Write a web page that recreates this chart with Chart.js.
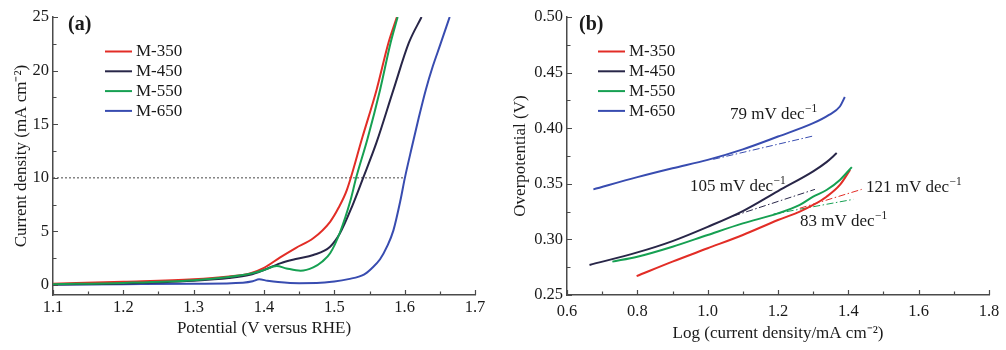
<!DOCTYPE html>
<html><head><meta charset="utf-8">
<script src="https://cdn.jsdelivr.net/npm/chart.js@4.4.0/dist/chart.umd.min.js"></script>
<style>
html,body{margin:0;padding:0;background:#fff;}
#wrap{position:relative;width:1006px;height:350px;overflow:hidden;background:#fff;}
canvas{position:absolute;top:0;}
#ca{left:0;}
#cb{left:503px;}
</style></head><body>
<div id="wrap"><canvas id="ca" width="503" height="350"></canvas><canvas id="cb" width="503" height="350"></canvas></div>
<script>
// ---------- data ----------
const seriesNames = ['M-350', 'M-450', 'M-550', 'M-650'];

// Panel (a): potential (V vs RHE) and current density (mA cm-2)
const potM350 = [1.10, 1.20, 1.30, 1.35, 1.38, 1.40, 1.423, 1.445, 1.470, 1.494, 1.506, 1.518, 1.540, 1.560, 1.577, 1.589];
const jM350   = [0.12, 0.30, 0.53, 0.80, 1.09, 1.60, 2.58, 3.45, 4.36, 5.90, 7.20, 8.90, 13.8, 18.2, 22.6, 25.0];
const potM450 = [1.10, 1.20, 1.30, 1.35, 1.38, 1.40, 1.423, 1.447, 1.470, 1.494, 1.508, 1.525, 1.541, 1.560, 1.584, 1.606, 1.624];
const jM450   = [0.05, 0.15, 0.40, 0.65, 0.95, 1.40, 2.02, 2.45, 2.80, 3.58, 4.83, 7.30, 10.0, 13.3, 18.2, 22.6, 25.0];
const potM550 = [1.10, 1.20, 1.30, 1.35, 1.38, 1.40, 1.418, 1.432, 1.452, 1.470, 1.483, 1.494, 1.508, 1.523, 1.531, 1.547, 1.565, 1.580, 1.590];
const jM550   = [0.08, 0.20, 0.45, 0.75, 1.05, 1.40, 1.77, 1.55, 1.34, 1.65, 2.20, 2.96, 4.90, 7.90, 10.0, 13.6, 18.2, 22.6, 25.0];
const potM650 = [1.10, 1.20, 1.30, 1.37, 1.384, 1.393, 1.405, 1.42, 1.45, 1.475, 1.50, 1.52, 1.542, 1.553, 1.565, 1.575, 1.584, 1.594, 1.600, 1.610, 1.620, 1.630, 1.640, 1.650, 1.664];
const jM650   = [0.05, 0.08, 0.12, 0.22, 0.35, 0.53, 0.40, 0.28, 0.17, 0.18, 0.32, 0.55, 0.98, 1.55, 2.40, 3.60, 5.10, 7.90, 9.90, 12.8, 15.6, 18.2, 20.4, 22.3, 25.0];
const refPot = [1.10, 1.60];
const refJ   = [10, 10];
const xTicksA = [1.1, 1.2, 1.3, 1.4, 1.5, 1.6, 1.7];
const yTicksA = [0, 5, 10, 15, 20, 25];

// Panel (b): log(current density) and overpotential (V)
const logM350 = [0.798, 0.90, 1.00, 1.10, 1.20, 1.262, 1.30, 1.338, 1.376, 1.405];
const etaM350 = [0.267, 0.280, 0.292, 0.304, 0.3174, 0.325, 0.331, 0.3384, 0.349, 0.3625];
const logM450 = [0.664, 0.80, 0.90, 1.00, 1.10, 1.20, 1.30, 1.338, 1.367];
const etaM450 = [0.277, 0.2883, 0.2985, 0.3113, 0.3255, 0.3435, 0.3612, 0.3695, 0.3776];
const logM550 = [0.729, 0.80, 0.90, 1.00, 1.10, 1.20, 1.262, 1.30, 1.338, 1.376, 1.41];
const etaM550 = [0.280, 0.2844, 0.2934, 0.304, 0.3144, 0.3234, 0.331, 0.3384, 0.3444, 0.3535, 0.365];
const logM650 = [0.675, 0.80, 0.90, 1.00, 1.10, 1.20, 1.30, 1.345, 1.376, 1.39];
const etaM650 = [0.345, 0.356, 0.364, 0.3715, 0.381, 0.3925, 0.4045, 0.412, 0.4195, 0.428];
// Tafel fit segments (dash-dot)
const fitLogM350 = [1.262, 1.438];
const fitEtaM350 = [0.328, 0.345];
const fitLogM450 = [1.073, 1.305];
const fitEtaM450 = [0.321, 0.345];
const fitLogM550 = [1.187, 1.414];
const fitEtaM550 = [0.3228, 0.336];
const fitLogM650 = [1.016, 1.300];
const fitEtaM650 = [0.372, 0.393];
const tafelSlopes = ['121 mV dec', '105 mV dec', '83 mV dec', '79 mV dec'];
const xTicksB = [0.6, 0.8, 1.0, 1.2, 1.4, 1.6, 1.8];
const yTicksB = [0.25, 0.30, 0.35, 0.40, 0.45, 0.50];

// ---------- styles ----------
const COLORS = ['rgb(226,45,38)', 'rgb(40,38,72)', 'rgb(22,160,82)', 'rgb(56,76,176)'];
const ORDER = [1, 2, 0, 3];
const AXIS = '#4a4a4a';
const TXT = '#1a1a1a';
const FONT = "'Liberation Serif', 'Times New Roman', serif";

const pts = (xs, ys) => xs.map((x, i) => ({x: x, y: ys[i]}));
const mids = (arr) => arr.slice(0, -1).map((v, i) => (v + arr[i + 1]) / 2);

function curve(i, xs, ys) {
  return {label: seriesNames[i], data: pts(xs, ys), borderColor: COLORS[i], borderWidth: 2,
    pointRadius: 0, fill: false, cubicInterpolationMode: 'monotone', order: ORDER[i]};
}
function fitLine(i, xs, ys) {
  return {label: '', data: pts(xs, ys), borderColor: COLORS[i], borderWidth: 1,
    borderDash: [7, 2.5, 1.5, 2.5], pointRadius: 0, fill: false, order: 10};
}

const inTicks = {
  id: 'inTicks',
  afterDatasetsDraw(chart, args, o) {
    const ctx = chart.ctx, ca = chart.chartArea;
    const xs = chart.scales.x, ys = chart.scales.y;
    ctx.save();
    ctx.strokeStyle = AXIS; ctx.lineWidth = 1.2;
    ctx.beginPath();
    o.xMajor.forEach(v => { const p = Math.round(xs.getPixelForValue(v)) + 0.5; ctx.moveTo(p, ca.bottom); ctx.lineTo(p, ca.bottom - 5); });
    mids(o.xMajor).forEach(v => { const p = Math.round(xs.getPixelForValue(v)) + 0.5; ctx.moveTo(p, ca.bottom); ctx.lineTo(p, ca.bottom - 3.5); });
    o.yMajor.forEach(v => { const p = Math.round(ys.getPixelForValue(v)) + 0.5; ctx.moveTo(ca.left, p); ctx.lineTo(ca.left + 5, p); });
    mids(o.yMajor).forEach(v => { const p = Math.round(ys.getPixelForValue(v)) + 0.5; ctx.moveTo(ca.left, p); ctx.lineTo(ca.left + 3.5, p); });
    ctx.stroke();
    ctx.restore();
  }
};

const overlay = {
  id: 'overlay',
  afterDraw(chart, args, o) {
    const ctx = chart.ctx, ca = chart.chartArea;
    ctx.save();
    ctx.fillStyle = TXT;
    ctx.font = 'bold 20px ' + FONT;
    ctx.textBaseline = 'middle'; ctx.textAlign = 'left';
    ctx.fillText(o.tag, ca.left + o.tagDx, ca.top + 8);
    ctx.font = '17px ' + FONT;
    seriesNames.forEach((n, i) => {
      const y = ca.top + o.legTop + i * 19.8;
      ctx.strokeStyle = COLORS[i]; ctx.lineWidth = 2;
      ctx.beginPath(); ctx.moveTo(ca.left + o.legDx, y); ctx.lineTo(ca.left + o.legDx + 27, y); ctx.stroke();
      ctx.fillText(n, ca.left + o.legDx + 31, y + 0.5);
    });
    if (o.notes) {
      const xs = chart.scales.x, ys = chart.scales.y;
      ctx.textBaseline = 'alphabetic';
      o.notes.forEach(nt => {
        const x = xs.getPixelForValue(nt.x), y = ys.getPixelForValue(nt.y);
        ctx.font = '17px ' + FONT;
        ctx.fillText(tafelSlopes[nt.i], x, y);
        const w = ctx.measureText(tafelSlopes[nt.i]).width;
        ctx.font = '11.5px ' + FONT;
        ctx.fillText('\u22121', x + w + 0.5, y - 7);
      });
    }
    ctx.restore();
  }
};

function axisCfg(min, max, tickVals, fmt, title, tpad, lpad, isX, size) {
  return {
    type: 'linear', min: min, max: max,
    afterBuildTicks: s => { s.ticks = tickVals.map(v => ({value: v})); },
    afterFit: s => {
      if (isX) { s.height = size; s.paddingLeft = 0; s.paddingRight = 0; }
      else { s.width = size; s.paddingTop = 0; s.paddingBottom = 0; }
    },
    grid: {display: false, drawTicks: false, tickLength: 0},
    border: {display: true, color: AXIS, width: 1.5},
    ticks: {font: {family: FONT, size: 16.5}, color: TXT, padding: lpad, maxRotation: 0, autoSkip: false,
      callback: v => fmt(v)},
    title: {display: true, text: title, color: TXT, font: {family: FONT, size: 17}, padding: {top: tpad, bottom: tpad}}
  };
}

// ---------- panel (a) ----------
new Chart(document.getElementById('ca'), {
  type: 'line',
  data: {datasets: [
    curve(0, potM350, jM350), curve(1, potM450, jM450), curve(2, potM550, jM550), curve(3, potM650, jM650),
    {label: '', data: pts(refPot, refJ), borderColor: '#666', borderWidth: 1.2, borderDash: [2, 2], pointRadius: 0, order: 20}
  ]},
  options: {
    responsive: false, animation: false, devicePixelRatio: 1,
    layout: {padding: {left: 0, right: 28, top: 17, bottom: 0}},
    plugins: {legend: {display: false}, tooltip: {enabled: false},
      inTicks: {xMajor: xTicksA, yMajor: yTicksA},
      overlay: {tag: '(a)', tagDx: 15, legDx: 52, legTop: 34.5}},
    scales: {
      x: axisCfg(1.1, 1.7, xTicksA, v => v.toFixed(1), 'Potential (V versus RHE)', 11, 3, true, 55),
      y: axisCfg(-0.93, 25, yTicksA, v => String(Math.round(v)), 'Current density (mA cm\u207B\u00B2)', 11, 4, false, 53)
    }
  },
  plugins: [inTicks, overlay]
});

// ---------- panel (b) ----------
new Chart(document.getElementById('cb'), {
  type: 'line',
  data: {datasets: [
    curve(0, logM350, etaM350), curve(1, logM450, etaM450), curve(2, logM550, etaM550), curve(3, logM650, etaM650),
    fitLine(0, fitLogM350, fitEtaM350), fitLine(1, fitLogM450, fitEtaM450), fitLine(2, fitLogM550, fitEtaM550), fitLine(3, fitLogM650, fitEtaM650)
  ]},
  options: {
    responsive: false, animation: false, devicePixelRatio: 1,
    layout: {padding: {left: 0, right: 17, top: 17, bottom: 0}},
    plugins: {legend: {display: false}, tooltip: {enabled: false},
      inTicks: {xMajor: xTicksB, yMajor: yTicksB},
      overlay: {tag: '(b)', tagDx: 12, legDx: 31, legTop: 34.5,
        notes: [{i: 3, x: 1.0635, y: 0.4085}, {i: 1, x: 0.9497, y: 0.3437}, {i: 0, x: 1.450, y: 0.3428}, {i: 2, x: 1.2625, y: 0.3121}]}},
    scales: {
      x: axisCfg(0.6, 1.8, xTicksB, v => v.toFixed(1), 'Log (current density/mA cm\u207B\u00B2)', 6, 7, true, 55),
      y: axisCfg(0.25, 0.5, yTicksB, v => v.toFixed(2), 'Overpotential (V)', 7, 4, false, 64)
    }
  },
  plugins: [inTicks, overlay]
});
</script>
</body></html>
